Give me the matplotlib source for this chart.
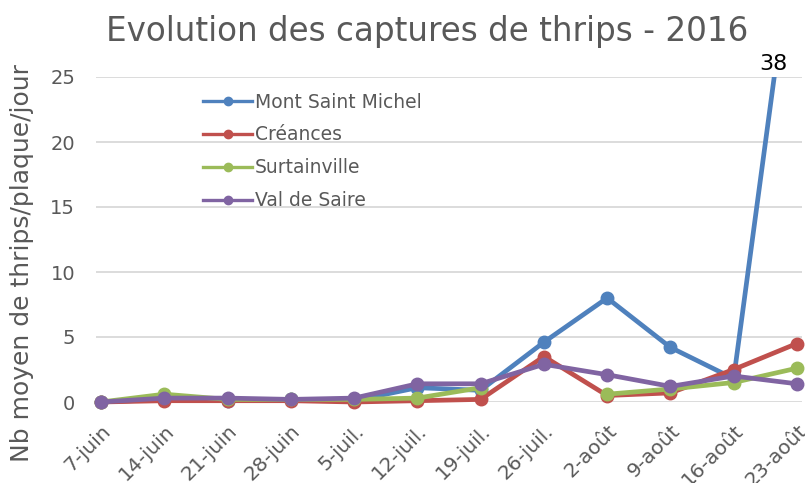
import numpy as np
import matplotlib.pyplot as plt
from matplotlib.patches import Rectangle
from matplotlib.lines import Line2D

dates = ['7-juin', '14-juin', '21-juin', '28-juin', '5-juil.', '12-juil.',
         '19-juil.', '26-juil.', '2-août', '9-août', '16-août', '23-août']
mont_saint_michel = [0, 0.2, 0.1, 0.2, 0.1, 1.1, 0.9, 4.6, 8.0, 4.2, 1.8, 38]
creances = [0, 0.1, 0.1, 0.1, 0, 0.1, 0.2, 3.5, 0.5, 0.7, 2.5, 4.5]
surtainville = [0, 0.6, 0.2, 0.2, 0.2, 0.3, 1.1, np.nan, 0.6, 1.0, 1.5, 2.6]
val_de_saire = [0, 0.3, 0.3, 0.2, 0.3, 1.4, 1.4, 2.9, 2.1, 1.2, 2.0, 1.4]

series = [
    ('Mont Saint Michel', mont_saint_michel, '#4f81bd'),
    ('Créances', creances, '#c0504d'),
    ('Surtainville', surtainville, '#9bbb59'),
    ('Val de Saire', val_de_saire, '#8064a2'),
]

gris = '#595959'
fig = plt.figure(figsize=(8.05, 4.83), dpi=100)
ax = fig.add_axes([96 / 805, 81 / 483, 706 / 805, 325 / 483])

x = np.arange(len(dates))
# zone de découpe : on garde les marqueurs à 0 mais on coupe au-dessus de 25
clip = Rectangle((-1, -3), 14, 28, transform=ax.transData, visible=False)
ax.add_patch(clip)
handles = []
for nom, vals, coul in series:
    ln, = ax.plot(x, vals, '-o', color=coul, lw=3.4, ms=9,
                  solid_capstyle='round', zorder=3)
    ln.set_clip_path(clip)
    handles.append(Line2D([], [], color=coul, lw=2.4, marker='o', ms=6, label=nom))

# valeur hors échelle
ax.text(10.63, 25.2, '38', ha='center', va='bottom', fontsize=16, color='black')

ax.set_xlim(-0.08, 11.08)
ax.set_ylim(0, 25)
ax.set_yticks(range(0, 26, 5))
ax.set_xticks(x)
ax.set_xticklabels(dates, rotation=45, ha='right', rotation_mode='anchor')
ax.tick_params(length=0, colors=gris)
ax.tick_params(axis='x', pad=14, labelsize=14.5)
ax.tick_params(axis='y', pad=15, labelsize=14)
ax.grid(axis='y', color='#d9d9d9', lw=1.3)
ax.set_axisbelow(True)
for s in ax.spines.values():
    s.set_visible(False)

ax.legend(handles=handles, loc='upper left', bbox_to_anchor=(0.152, 0.952),
          frameon=False, fontsize=13.5, labelspacing=0.74, handlelength=2.6,
          handletextpad=0.15, labelcolor=gris, borderaxespad=0, borderpad=0)

fig.text(427 / 805, 1 - 31 / 483, 'Evolution des captures de thrips - 2016',
         ha='center', va='center', fontsize=23.5, color=gris)
fig.text(22 / 805, 1 - 263 / 483, 'Nb moyen de thrips/plaque/jour', rotation=90,
         ha='center', va='center', fontsize=18, color=gris)

fig.savefig('out.png', dpi=100)
